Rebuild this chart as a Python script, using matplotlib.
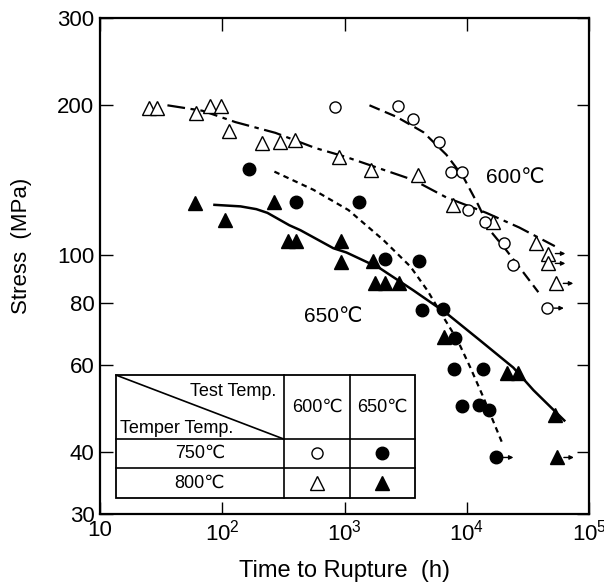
import matplotlib
matplotlib.use("Agg")
import matplotlib.pyplot as plt
from matplotlib.transforms import offset_copy
from matplotlib.patches import Rectangle
from matplotlib.lines import Line2D

plt.rcParams["font.family"] = ["Liberation Sans", "DejaVu Sans"]

# --- rupture data (time h, stress MPa) ---
# temper 800C, test 600C (open triangles)
t800_600_x = [25, 29.5, 61.5, 79, 98.5, 114, 213, 294, 396, 908, 1660, 4020,
              7770, 16500, 37100, 46500, 46500, 54000]
t800_600_y = [197.5, 197.5, 193, 199, 199, 177.5, 168, 169, 170, 157.5, 148, 145,
              126, 116.5, 105.5, 100.5, 96, 87.5]
t800_600_run = [False] * 15 + [True] * 3

# temper 750C, test 600C (open circles)
t750_600_x = [843, 2760, 3660, 5910, 7480, 9200, 10200, 14100, 20100, 24000, 45200]
t750_600_y = [198.7, 199.4, 187.5, 168.5, 147, 147, 123, 116.4, 105.4, 95.3, 78]
t750_600_run = [False] * 10 + [True]

# temper 750C, test 650C (filled circles)
t750_650_x = [164, 400, 1324, 2160, 4060, 4300, 6440, 8070, 7850, 13700, 9120,
              12600, 15300, 17500]
t750_650_y = [148.8, 127.6, 127.6, 97.8, 97.3, 77.5, 77.8, 67.9, 58.7, 58.7, 49.5,
              49.7, 48.6, 39]
t750_650_run = [False] * 13 + [True]

# temper 800C, test 650C (filled triangles)
t800_650_x = [59.3, 105, 267, 344, 404, 943, 943, 1722, 1773, 2140, 2810, 6560,
              21300, 26400, 52500, 54600]
t800_650_y = [127.3, 117.3, 127.7, 106.3, 106.3, 106.3, 96.5, 97.3, 87.8, 87.8,
              87.8, 68.2, 57.6, 57.6, 47.5, 39]
t800_650_run = [False] * 15 + [True]

# --- hand-drawn trend curves ---
c800_600_x = [35.6, 68.9, 128, 272, 578, 1017, 3660, 6810, 14460, 26900, 52500]
c800_600_y = [200, 195, 185, 176, 164, 157.5, 141.4, 130.4, 121.4, 113.4, 104]
c750_600_x = [1600, 2660, 4420, 6810, 9380, 12400, 15900, 21100, 29000, 38500]
c750_600_y = [200, 189.6, 176.5, 159, 143.3, 126, 111, 102, 92.1, 84.0]
c800_650_x = [86.3, 141, 190, 234, 354, 436, 811, 1037, 1930, 3660, 6810, 12700,
              24000, 35100, 62800]
c800_650_y = [126, 125.1, 123.5, 121.4, 114.6, 112, 103, 101, 94.0, 84.7, 76.2,
              67.3, 59.2, 53.3, 46.3]
c750_650_x = [267, 557, 1076, 2080, 3460, 4760, 6310, 8380, 10700, 13700, 19500]
c750_650_y = [147, 135.1, 123, 107, 94.6, 84.7, 75.4, 67.3, 59.2, 51.5, 41.7]

x_ticks = [10, 1e2, 1e3, 1e4, 1e5]
x_labels = ["10", r"$\mathregular{10^2}$", r"$\mathregular{10^3}$",
            r"$\mathregular{10^4}$", r"$\mathregular{10^5}$"]
y_ticks = [30, 40, 60, 80, 100, 200, 300]

fig = plt.figure(figsize=(6.04, 5.87), dpi=100)
ax = fig.add_axes([0.1656, 0.1244, 0.8096, 0.845])
ax.set_xscale("log")
ax.set_yscale("log")
ax.set_xlim(10, 1e5)
ax.set_ylim(30, 300)

# curves
ax.plot(c800_600_x, c800_600_y, color="k", lw=1.6, dashes=(8, 2.5, 2, 2.5))
ax.plot(c750_600_x, c750_600_y, color="k", lw=1.6, dashes=(5, 2.5))
ax.plot(c800_650_x, c800_650_y, color="k", lw=1.8)
ax.plot(c750_650_x, c750_650_y, color="k", lw=1.6, dashes=(2.5, 2))

styles = [
    (t800_600_x, t800_600_y, t800_600_run, "^", "white", 10),
    (t750_600_x, t750_600_y, t750_600_run, "o", "white", 8),
    (t750_650_x, t750_650_y, t750_650_run, "o", "black", 9),
    (t800_650_x, t800_650_y, t800_650_run, "^", "black", 10),
]

t_head = offset_copy(ax.transData, fig=fig, x=17, y=0, units="dots")
t_tail = offset_copy(ax.transData, fig=fig, x=7, y=0, units="dots")

for xs, ys, run, mk, fc, ms in styles:
    ax.plot(xs, ys, ls="none", marker=mk, ms=ms, mfc=fc, mec="k", mew=1.0,
            zorder=3)
    for x, y, r in zip(xs, ys, run):
        if r:
            ax.annotate("", xy=(x, y), xycoords=t_head, xytext=(x, y),
                        textcoords=t_tail,
                        arrowprops=dict(arrowstyle="-|>", lw=1, color="k",
                                        mutation_scale=6, shrinkA=0, shrinkB=0))

ax.text(25000, 142.8, "600℃", fontsize=15, ha="center", va="center")
ax.text(811, 75.1, "650℃", fontsize=15, ha="center", va="center")

# ticks
ax.set_xticks(x_ticks)
ax.set_xticklabels(x_labels)
ax.set_yticks(y_ticks)
ax.set_yticklabels([str(v) for v in y_ticks])
ax.xaxis.set_minor_locator(matplotlib.ticker.NullLocator())
ax.yaxis.set_minor_locator(matplotlib.ticker.NullLocator())
ax.tick_params(which="major", direction="in", length=9, width=1.0,
               top=True, right=True, labelsize=16, pad=4)
for sp in ax.spines.values():
    sp.set_linewidth(1.6)

ax.set_xlabel("Time to Rupture  (h)", fontsize=17)
ax.set_ylabel("Stress  (MPa)", fontsize=16)
ax.xaxis.set_label_coords(0.50, -0.093)
ax.yaxis.set_label_coords(-0.139, 0.54)

# legend table
tx0, tx1 = 0.0327, 0.644
cx1, cx2 = 0.376, 0.511
ty0, ty1 = 0.0323, 0.280
ry1, ry2 = 0.151, 0.0927
ax.add_patch(Rectangle((tx0, ty0), tx1 - tx0, ty1 - ty0, transform=ax.transAxes,
                       fc="white", ec="k", lw=1.3, zorder=5))
for seg in [([cx1, cx1], [ty0, ty1]), ([cx2, cx2], [ty0, ty1]),
            ([tx0, tx1], [ry1, ry1]), ([tx0, tx1], [ry2, ry2]),
            ([tx0, cx1], [ty1, ry1])]:
    ax.add_line(Line2D(seg[0], seg[1], transform=ax.transAxes, color="k",
                       lw=1.2, zorder=6))

tkw = dict(transform=ax.transAxes, fontsize=13, zorder=7, va="center")
ax.text(0.360, 0.246, "Test Temp.", ha="right", **tkw)
ax.text(0.041, 0.173, "Temper Temp.", ha="left", **tkw)
ax.text(0.444, 0.216, "600℃", ha="center", **tkw)
ax.text(0.577, 0.216, "650℃", ha="center", **tkw)
ax.text(0.204, 0.123, "750℃", ha="center", **tkw)
ax.text(0.204, 0.0625, "800℃", ha="center", **tkw)

mkw = dict(transform=ax.transAxes, ls="none", mec="k", mew=1.0, zorder=7,
           clip_on=False)
ax.plot([0.444], [0.123], marker="o", ms=8, mfc="white", **mkw)
ax.plot([0.577], [0.123], marker="o", ms=9, mfc="black", **mkw)
ax.plot([0.444], [0.0625], marker="^", ms=10, mfc="white", **mkw)
ax.plot([0.577], [0.0625], marker="^", ms=10, mfc="black", **mkw)

fig.savefig("out.png", dpi=100)
